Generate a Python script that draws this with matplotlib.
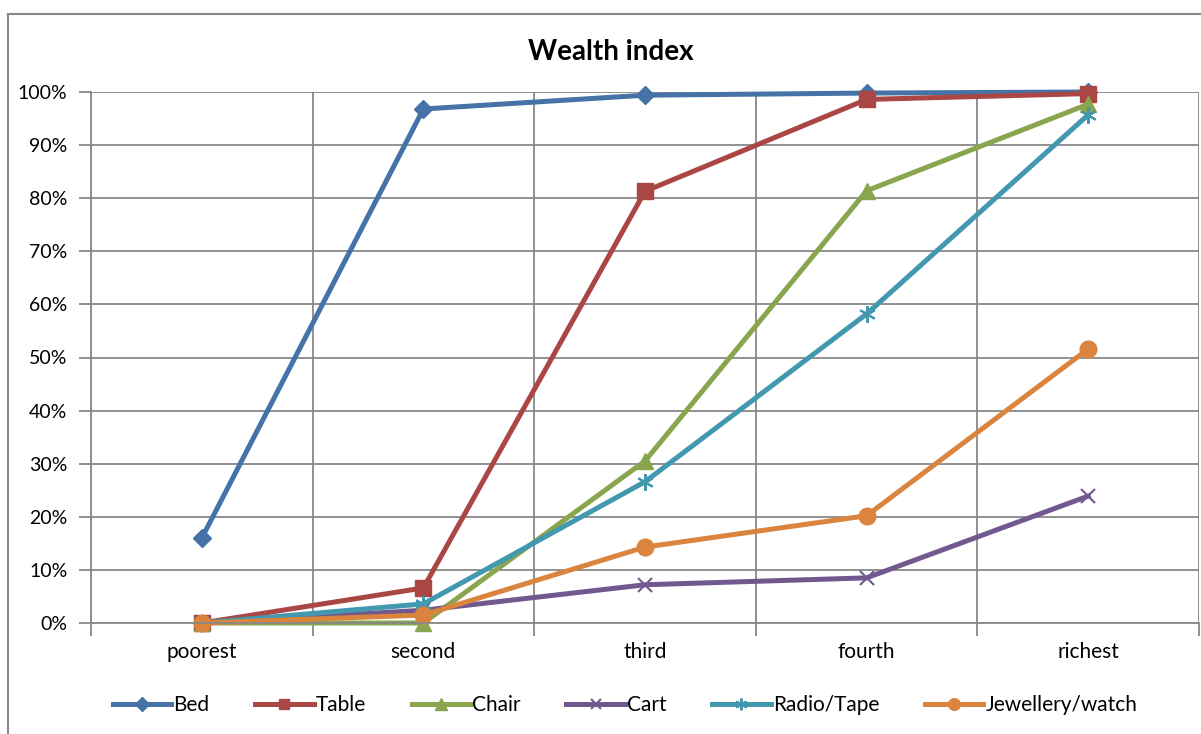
import matplotlib.pyplot as plt
from matplotlib.patches import Rectangle
from matplotlib.ticker import FixedLocator, PercentFormatter

plt.rcParams['font.family'] = ['Lato', 'DejaVu Sans']

categories = ['poorest', 'second', 'third', 'fourth', 'richest']
bed = [16.0, 96.8, 99.4, 99.8, 100.0]
table = [0.0, 6.6, 81.3, 98.6, 99.7]
chair = [0.0, 0.0, 30.5, 81.4, 97.7]
cart = [0.0, 2.4, 7.2, 8.5, 23.9]
radio = [0.0, 3.6, 26.6, 58.2, 95.7]
jewellery = [0.0, 1.5, 14.3, 20.2, 51.6]

series = [('Bed', bed, '#4572A7', 'D'),
          ('Table', table, '#AA4643', 's'),
          ('Chair', chair, '#89A54E', '^'),
          ('Cart', cart, '#71588F', 'x'),
          ('Radio/Tape', radio, '#4198AF', (6, 2, 0)),
          ('Jewellery/watch', jewellery, '#DB843D', 'o')]

fig = plt.figure(figsize=(12.01, 7.34), dpi=100)
ax = fig.add_axes([91 / 1201, 1 - 623 / 734, 1108 / 1201, 531 / 734])

# outer chart frame
fig.patches.append(Rectangle((8 / 1201, -0.05), 1.2, 1 - 14 / 734 + 0.05,
                             transform=fig.transFigure, fill=False,
                             edgecolor='#888888', linewidth=1.5))

x = list(range(len(categories)))
for name, vals, col, mk in series:
    ms = 11
    mew = 1
    if mk == 'x':
        ms, mew = 10, 1.5
    elif mk == (6, 2, 0):
        ms, mew = 12, 1.5
    elif mk == '^':
        ms = 12
    elif mk == 'D':
        ms = 9.5
    elif mk == 'o':
        ms = 12
    ax.plot(x, vals, color=col, linewidth=3.6, marker=mk, markersize=ms,
            markeredgecolor=col, markerfacecolor=col, markeredgewidth=mew,
            label=name, clip_on=False)

ax.set_xlim(-0.5, 4.5)
ax.set_ylim(0, 100)
ax.yaxis.set_major_locator(FixedLocator(range(0, 101, 10)))
ax.yaxis.set_major_formatter(PercentFormatter(decimals=0))
ax.set_xticks(x)
ax.set_xticklabels(categories)
ax.set_xticks([-0.5, 0.5, 1.5, 2.5, 3.5, 4.5], minor=True)
ax.grid(True, which='major', axis='y', color='#888888', linewidth=1.3)
ax.grid(True, which='minor', axis='x', color='#888888', linewidth=1.3)
ax.tick_params(axis='x', which='major', length=0, labelsize=15, pad=14)
ax.tick_params(axis='x', which='minor', length=9, color='#888888', width=1.3)
ax.tick_params(axis='y', length=9, color='#888888', width=1.3, labelsize=14, pad=8)
for s in ['top', 'right']:
    ax.spines[s].set_visible(False)
for s in ['left', 'bottom']:
    ax.spines[s].set_color('#888888')
    ax.spines[s].set_linewidth(1.3)
ax.set_axisbelow(True)

fig.text(611 / 1201, 1 - 52 / 734, 'Wealth index', ha='center', va='center',
         fontsize=20, fontweight='bold')

fig.legend(loc='center', bbox_to_anchor=(625 / 1201, 1 - 705 / 734), ncol=6,
           frameon=False, fontsize=15, handlelength=2.8, handletextpad=0.1,
           columnspacing=2.2, markerscale=0.7)

fig.savefig('out.png', dpi=100)
